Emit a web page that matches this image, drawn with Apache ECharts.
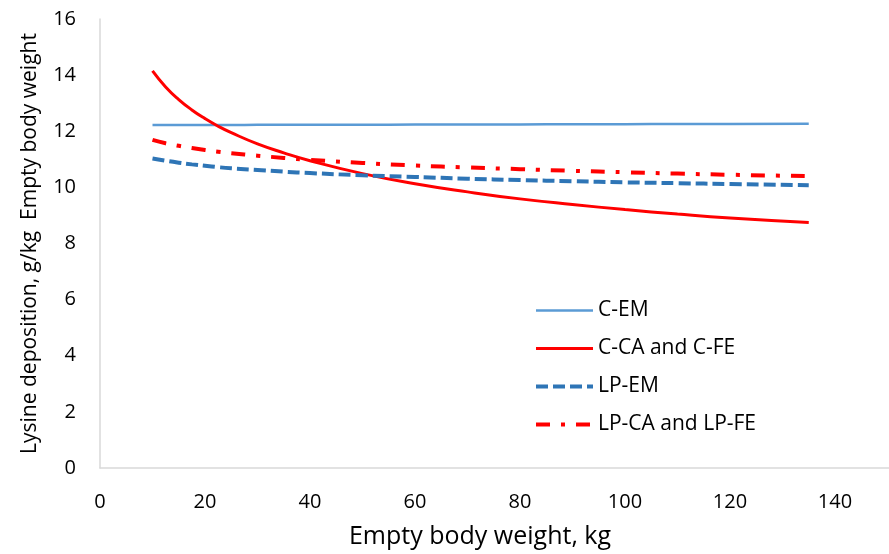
<!DOCTYPE html>
<html>
<head>
<meta charset="utf-8">
<script src="https://cdn.jsdelivr.net/npm/echarts@6/dist/echarts.min.js"></script>
<style>
  html, body { margin: 0; padding: 0; background: #fff; }
  #chart { width: 889px; height: 554px; }
</style>
</head>
<body>
<div id="chart"></div>
<script>
// Empty body weight (kg) at which each curve is sampled
const weights = [10, 12.5, 15, 17.5, 20, 22.5, 25, 30, 35, 40, 50, 60, 70, 80, 90, 100, 110, 120, 135];

// Lysine deposition, g/kg empty body weight
const cEM    = [12.22, 12.22, 12.22, 12.22, 12.22, 12.22, 12.22, 12.23, 12.23, 12.23, 12.23, 12.24, 12.24, 12.24, 12.25, 12.25, 12.26, 12.26, 12.27];
const cCAFE  = [14.15, 13.58, 13.13, 12.76, 12.45, 12.18, 11.95, 11.55, 11.23, 10.95, 10.49, 10.13, 9.84, 9.59, 9.39, 9.21, 9.05, 8.91, 8.75];
const lpEM   = [11.03, 10.95, 10.88, 10.82, 10.77, 10.72, 10.68, 10.62, 10.56, 10.51, 10.43, 10.37, 10.31, 10.26, 10.22, 10.18, 10.15, 10.12, 10.08];
const lpCAFE = [11.69, 11.57, 11.48, 11.40, 11.33, 11.27, 11.22, 11.13, 11.05, 10.98, 10.87, 10.78, 10.71, 10.65, 10.59, 10.54, 10.49, 10.45, 10.40];

const seriesNames = ['C-EM', 'C-CA and C-FE', 'LP-EM', 'LP-CA and LP-FE'];

const xTicks = [0, 20, 40, 60, 80, 100, 120, 140];
const yTicks = [0, 2, 4, 6, 8, 10, 12, 14, 16];

const pairs = (ys) => weights.map((w, i) => [w, ys[i]]);

const font = 'Open Sans, Noto Sans, sans-serif';

const styles = [
  { color: '#5b9bd5', width: 2.5, type: 'solid' },
  { color: '#ff0000', width: 3, type: 'solid' },
  { color: '#2e75b6', width: 4, type: [12, 5] },
  { color: '#ff0000', width: 4, type: [14, 11, 4, 11] }
];

const chart = echarts.init(document.getElementById('chart'), null, { renderer: 'canvas' });

function lineSeries(name, ys, st) {
  return {
    name: name,
    type: 'line',
    data: pairs(ys),
    showSymbol: false,
    symbol: 'none',
    smooth: true,
    lineStyle: { color: st.color, width: st.width, type: st.type },
    itemStyle: { color: st.color }
  };
}

chart.setOption({
  animation: false,
  backgroundColor: '#ffffff',
  // the value axis runs on to 160 kg, past the right edge of the canvas
  grid: {
    left: 100, top: 19, width: 840, height: 449,
    containLabel: false,
    outerBoundsMode: 'none'
  },
  legend: {
    orient: 'vertical',
    left: 529,
    top: 295,
    itemWidth: 57,
    itemHeight: 14,
    itemGap: 17,
    itemStyle: { opacity: 0 },
    textStyle: { fontFamily: font, fontSize: 21, color: '#000' },
    data: seriesNames.map((n, i) => ({
      name: n,
      lineStyle: { width: styles[i].width, color: styles[i].color, type: styles[i].type }
    }))
  },
  xAxis: {
    type: 'value',
    min: 0,
    max: 160,
    interval: 20,
    name: 'Empty body weight, kg',
    nameLocation: 'middle',
    nameGap: 56,
    nameTextStyle: { fontFamily: font, fontSize: 25, color: '#000', padding: [0, 80, 0, 0] },
    axisLine: { show: true, lineStyle: { color: '#d9d9d9', width: 1.5 } },
    axisTick: { show: false },
    splitLine: { show: false },
    axisLabel: {
      margin: 24,
      fontFamily: font,
      fontSize: 20,
      color: '#000',
      formatter: (v) => (xTicks.includes(v) ? String(v) : '')
    }
  },
  yAxis: {
    type: 'value',
    min: 0,
    max: 16,
    interval: 2,
    name: 'Lysine deposition, g/kg  Empty body weight',
    nameLocation: 'middle',
    nameGap: 59,
    nameRotate: 90,
    nameTextStyle: { fontFamily: font, fontSize: 21, color: '#000' },
    axisLine: { show: true, lineStyle: { color: '#d9d9d9', width: 1.5 } },
    axisTick: { show: false },
    splitLine: { show: false },
    axisLabel: {
      margin: 24,
      fontFamily: font,
      fontSize: 20,
      color: '#000',
      formatter: (v) => (yTicks.includes(v) ? String(v) : '')
    }
  },
  series: seriesNames.map((n, i) => lineSeries(n, [cEM, cCAFE, lpEM, lpCAFE][i], styles[i]))
});
</script>
</body>
</html>
